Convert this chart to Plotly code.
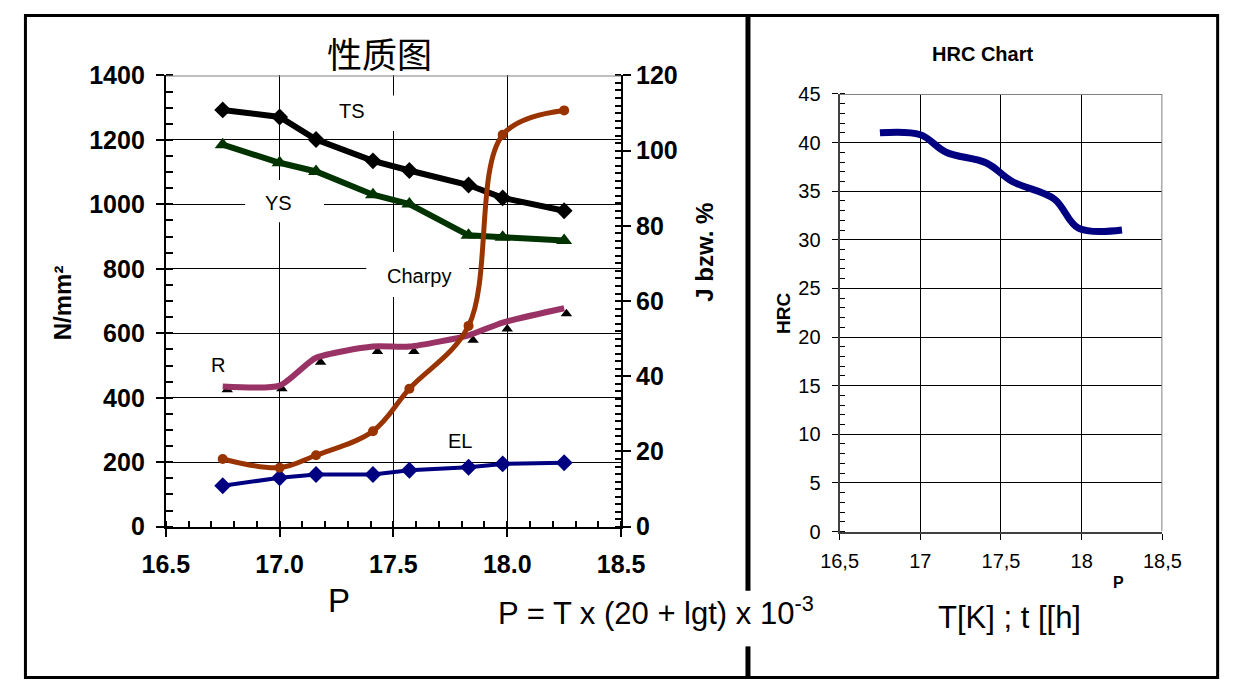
import plotly.graph_objects as go

W, H = 1245, 693
FONT = "Liberation Sans, Arial, sans-serif"

# ---------------- data ----------------
P = [16.75, 17.0, 17.16, 17.41, 17.57, 17.83, 17.98, 18.25]
TS = [1293, 1271, 1201, 1135, 1105, 1060, 1020, 980]
YS = [1185, 1129, 1102, 1030, 1001, 904, 898, 888]
CHARPY = [18.0, 15.7, 19.0, 25.4, 36.7, 53.4, 104.2, 110.7]
R_LINE = [37.3, 37.5, 44.9, 47.9, 47.9, 50.9, 54.3, 58.1]
R_TRI_P = [16.77, 17.01, 17.18, 17.43, 17.59, 17.85, 18.0, 18.26]
R_TRI = [36.4, 36.7, 43.7, 46.6, 46.6, 49.6, 52.6, 56.6]
EL = [10.9, 13.0, 13.9, 13.9, 15.0, 15.8, 16.7, 17.0]
HRC = [41.0, 40.8, 39.0, 37.9, 36.0, 34.2, 31.2, 31.0]

HRC_XTICKS = [16.5, 17, 17.5, 18, 18.5]
HRC_XTICKTEXT = ["16,5", "17", "17,5", "18", "18,5"]

# ---------------- geometry (pixels) ----------------
L_X0, L_X1, L_Y0, L_Y1 = 147.5, 621.0, 64.0, 534.3      # left plot area
R_X0, R_X1, R_Y0, R_Y1 = 848.3, 1184.0, 83.3, 539.3     # right plot area


def px(x):
    return x / W


def py(y):
    return 1 - y / H


def dx(x):
    return 16.5 + (x - L_X0) / (L_X1 - L_X0) * 2.0


def dy(y):
    return (L_Y1 - y) / (L_Y1 - L_Y0) * 1400.0


fig = go.Figure()

fig.add_trace(go.Scatter(x=P, y=TS, mode="lines+markers", xaxis="x", yaxis="y",
                         line=dict(color="black", width=6),
                         marker=dict(symbol="diamond", size=13, color="black")))
fig.add_trace(go.Scatter(x=P, y=YS, mode="lines+markers", xaxis="x", yaxis="y",
                         line=dict(color="#003300", width=6),
                         marker=dict(symbol="triangle-up", size=14, color="#003300")))
fig.add_trace(go.Scatter(x=P, y=EL, mode="lines+markers", xaxis="x", yaxis="y2",
                         line=dict(color="#000080", width=4),
                         marker=dict(symbol="diamond", size=13, color="#000080")))
fig.add_trace(go.Scatter(x=R_TRI_P, y=R_TRI, mode="markers", xaxis="x", yaxis="y2",
                         marker=dict(symbol="triangle-up", size=10, color="black")))
fig.add_trace(go.Scatter(x=P, y=R_LINE, mode="lines", xaxis="x", yaxis="y2",
                         line=dict(color="#993366", width=6, shape="spline", smoothing=0.6)))
fig.add_trace(go.Scatter(x=P, y=CHARPY, mode="lines+markers", xaxis="x", yaxis="y2",
                         line=dict(color="#993300", width=5, shape="spline", smoothing=1),
                         marker=dict(symbol="circle", size=10, color="#993300")))
fig.add_trace(go.Scatter(x=P, y=HRC, mode="lines", xaxis="x3", yaxis="y3",
                         line=dict(color="#000080", width=7, shape="spline", smoothing=1)))

bold_tick = dict(family=FONT, size=25, color="black", weight="bold")
norm_tick = dict(family=FONT, size=20, color="black")

fig.update_layout(
    width=W, height=H,
    margin=dict(l=0, r=0, t=0, b=0),
    paper_bgcolor="white", plot_bgcolor="white",
    showlegend=False,
    xaxis=dict(domain=[px(L_X0), px(L_X1)], anchor="y", range=[16.5, 18.5],
               tick0=16.5, dtick=0.5, tickformat=".1f",
               showgrid=True, gridcolor="black", gridwidth=1, zeroline=False,
               showline=True, linecolor="black", linewidth=2,
               ticks="outside", ticklen=8, tickwidth=1.5, tickcolor="black",
               ticklabelstandoff=6,
               minor=dict(dtick=0.1, ticks="inside", ticklen=6, tickcolor="black", showgrid=False),
               tickfont=bold_tick),
    yaxis=dict(domain=[py(L_Y1), py(L_Y0)], anchor="x", range=[0, 1400], dtick=200,
               showgrid=True, gridcolor="black", gridwidth=1, zeroline=False,
               showline=True, linecolor="black", linewidth=2,
               ticks="outside", ticklen=8, tickwidth=1.5, tickcolor="black",
               ticklabelstandoff=6,
               minor=dict(dtick=50, ticks="inside", ticklen=7, tickcolor="black", showgrid=False),
               tickfont=bold_tick),
    yaxis2=dict(overlaying="y", side="right", anchor="x", range=[0, 120], dtick=20,
                showgrid=False, zeroline=False,
                showline=True, linecolor="black", linewidth=2,
                ticks="outside", ticklen=8, tickwidth=1.5, tickcolor="black",
                minor=dict(dtick=2, ticks="inside", ticklen=6, tickcolor="black"),
                tickfont=bold_tick),
    xaxis3=dict(domain=[px(R_X0), px(R_X1)], anchor="y3", range=[16.5, 18.5],
                tickvals=HRC_XTICKS, ticktext=HRC_XTICKTEXT,
                showgrid=True, gridcolor="black", gridwidth=1, zeroline=False,
                showline=True, linecolor="#404040", linewidth=2,
                ticks="outside", ticklen=6, tickcolor="black",
                ticklabelstandoff=4,
                tickfont=norm_tick),
    yaxis3=dict(domain=[py(R_Y1), py(R_Y0)], anchor="x3", range=[0, 45], dtick=5,
                showgrid=True, gridcolor="black", gridwidth=1, zeroline=False,
                showline=True, linecolor="#404040", linewidth=2,
                ticks="outside", ticklen=6, tickcolor="black",
                ticklabelstandoff=7,
                minor=dict(dtick=1, ticks="inside", ticklen=5, tickcolor="black", showgrid=False),
                tickfont=norm_tick),
)

shapes = []
# white boxes behind the series labels (hide gridlines, stay below the traces)
for (x0, x1, y0, y1) in [(297, 387, 85, 122), (230, 312, 173, 217), (356, 463, 248, 295)]:
    shapes.append(dict(type="rect", xref="x", yref="y", layer="between",
                       x0=dx(x0), x1=dx(x1), y0=dy(y1), y1=dy(y0),
                       fillcolor="white", line=dict(width=0)))
# gray plot-area borders
shapes.append(dict(type="line", xref="x", yref="y", x0=16.5, x1=18.5, y0=1400, y1=1400,
                   line=dict(color="#808080", width=2), layer="above"))
shapes.append(dict(type="line", xref="x3", yref="y3", x0=16.5, x1=18.5, y0=45, y1=45,
                   line=dict(color="#808080", width=2), layer="above"))
shapes.append(dict(type="line", xref="x3", yref="y3", x0=18.5, x1=18.5, y0=0, y1=45,
                   line=dict(color="#808080", width=2), layer="above"))
# outer frame
shapes.append(dict(type="rect", xref="paper", yref="paper",
                   x0=px(1.5), x1=px(1241.5), y0=py(691.5), y1=py(1.5),
                   line=dict(color="black", width=3), layer="above"))
# vertical divider with a gap for the formula
shapes.append(dict(type="line", xref="paper", yref="paper", x0=px(753), x1=px(753),
                   y0=py(0), y1=py(601), line=dict(color="black", width=5), layer="above"))
shapes.append(dict(type="line", xref="paper", yref="paper", x0=px(753), x1=px(753),
                   y0=py(659), y1=py(693), line=dict(color="black", width=5), layer="above"))
fig.update_layout(shapes=shapes)


def ann(text, x, y, size, weight="normal", family=FONT, angle=0):
    return dict(text=text, xref="paper", yref="paper", x=px(x), y=py(y),
                xanchor="center", yanchor="middle", showarrow=False, textangle=angle,
                font=dict(family=family, size=size, color="black", weight=weight))


annotations = [
    ann("性质图", 370, 40, 35, family="Noto Sans CJK SC"),
    ann("HRC Chart", 997, 42, 20, "bold"),
    ann("N/mm²", 40, 301, 24, "bold", angle=-90),
    ann("J bzw. %", 708, 248, 24, "bold", angle=-90),
    ann("HRC", 790, 312, 19, "bold", angle=-90),
    ann("P", 328, 611, 33),
    ann("P = T x (20 + lgt) x 10<sup>-3</sup>", 657, 622, 31),
    ann("T[K] ; t [[h]", 1025, 629, 31),
    ann("P", 1138, 592, 16, "bold"),
    ann("TS", 341, 101, 20),
    ann("YS", 265, 197, 20),
    ann("Charpy", 411, 273, 20),
    ann("R", 202, 366, 20),
    ann("EL", 454, 445, 20),
]
fig.update_layout(annotations=annotations)

fig.write_html("out.html", config={"displayModeBar": False},
               post_script="document.body.style.margin='0';document.body.style.padding='0';"
                           "document.body.style.overflow='hidden';")
